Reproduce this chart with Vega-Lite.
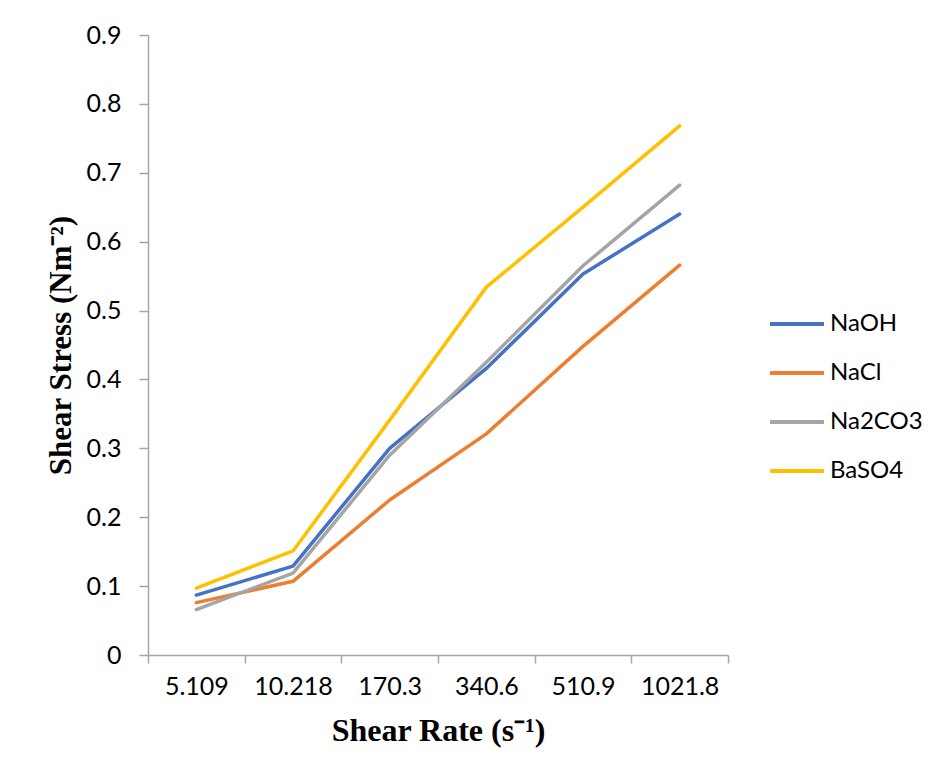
{
  "$schema": "https://vega.github.io/schema/vega-lite/v6.json",
  "width": 580,
  "height": 620,
  "autosize": {"type": "none"},
  "padding": {"left": 148, "top": 35, "right": 200, "bottom": 123},
  "background": "white",
  "config": {"view": {"stroke": null}},
  "data": {"values": [
    {"rate": "5.109", "salt": "NaOH", "stress": 0.087},
    {"rate": "10.218", "salt": "NaOH", "stress": 0.129},
    {"rate": "170.3", "salt": "NaOH", "stress": 0.300},
    {"rate": "340.6", "salt": "NaOH", "stress": 0.416},
    {"rate": "510.9", "salt": "NaOH", "stress": 0.553},
    {"rate": "1021.8", "salt": "NaOH", "stress": 0.640},
    {"rate": "5.109", "salt": "NaCl", "stress": 0.076},
    {"rate": "10.218", "salt": "NaCl", "stress": 0.107},
    {"rate": "170.3", "salt": "NaCl", "stress": 0.225},
    {"rate": "340.6", "salt": "NaCl", "stress": 0.321},
    {"rate": "510.9", "salt": "NaCl", "stress": 0.448},
    {"rate": "1021.8", "salt": "NaCl", "stress": 0.566},
    {"rate": "5.109", "salt": "Na2CO3", "stress": 0.066},
    {"rate": "10.218", "salt": "Na2CO3", "stress": 0.119},
    {"rate": "170.3", "salt": "Na2CO3", "stress": 0.290},
    {"rate": "340.6", "salt": "Na2CO3", "stress": 0.425},
    {"rate": "510.9", "salt": "Na2CO3", "stress": 0.565},
    {"rate": "1021.8", "salt": "Na2CO3", "stress": 0.682},
    {"rate": "5.109", "salt": "BaSO4", "stress": 0.097},
    {"rate": "10.218", "salt": "BaSO4", "stress": 0.151},
    {"rate": "170.3", "salt": "BaSO4", "stress": 0.341},
    {"rate": "340.6", "salt": "BaSO4", "stress": 0.534},
    {"rate": "510.9", "salt": "BaSO4", "stress": 0.650},
    {"rate": "1021.8", "salt": "BaSO4", "stress": 0.768}
  ]},
  "mark": {"type": "line", "strokeWidth": 3.5, "strokeCap": "round", "strokeJoin": "round"},
  "encoding": {
    "x": {
      "field": "rate",
      "type": "nominal",
      "scale": {"domain": ["5.109", "10.218", "170.3", "340.6", "510.9", "1021.8"], "paddingInner": 0, "paddingOuter": 0},
      "axis": {
        "title": "Shear Rate (s⁻¹)",
        "titleFont": "Liberation Serif",
        "titleFontWeight": "bold",
        "titleFontSize": 32,
        "titleColor": "black",
        "titlePadding": 16,
        "labelFont": "Lato",
        "labelFontSize": 25,
        "labelColor": "black",
        "labelAngle": 0,
        "labelPadding": 11,
        "tickBand": "extent",
        "tickSize": 8,
        "tickColor": "#A6A6A6",
        "domainColor": "#A6A6A6",
        "domainWidth": 1.5,
        "tickWidth": 1.5,
        "grid": false
      }
    },
    "y": {
      "field": "stress",
      "type": "quantitative",
      "scale": {"domain": [0, 0.9], "nice": false, "zero": true},
      "axis": {
        "title": "Shear Stress (Nm⁻²)",
        "titleFont": "Liberation Serif",
        "titleFontWeight": "bold",
        "titleFontSize": 31,
        "titleColor": "black",
        "titlePadding": 9,
        "values": [0, 0.1, 0.2, 0.3, 0.4, 0.5, 0.6, 0.7, 0.8, 0.9],
        "format": "~g",
        "labelFont": "Lato",
        "labelFontSize": 25,
        "labelColor": "black",
        "labelPadding": 18,
        "tickSize": 9,
        "tickColor": "#A6A6A6",
        "domainColor": "#A6A6A6",
        "domainWidth": 1.5,
        "tickWidth": 1.5,
        "grid": false
      }
    },
    "color": {
      "field": "salt",
      "type": "nominal",
      "scale": {"domain": ["NaOH", "NaCl", "Na2CO3", "BaSO4"], "range": ["#4472C4", "#ED7D31", "#A5A5A5", "#FFC000"]},
      "legend": {
        "title": null,
        "orient": "none",
        "legendX": 620,
        "legendY": 260,
        "labelFont": "Lato",
        "labelFontSize": 24,
        "labelColor": "black",
        "symbolType": "stroke",
        "symbolSize": 2916,
        "symbolStrokeWidth": 4,
        "labelOffset": 4,
        "rowPadding": 8
      }
    }
  }
}
